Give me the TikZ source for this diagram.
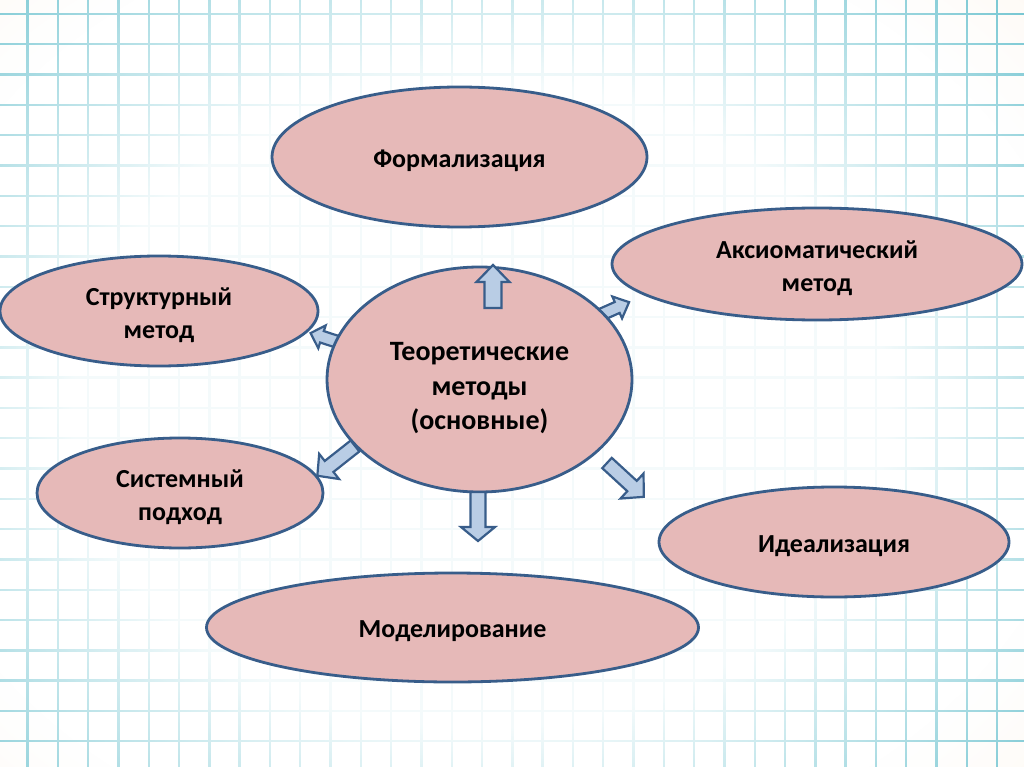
\documentclass[tikz,border=0pt]{standalone}
\usepackage{fontspec}
\setmainfont{Carlito}
\usetikzlibrary{fadings,shapes.geometric}

\definecolor{peach}{HTML}{FCE0BC}
\definecolor{gridc}{RGB}{50,170,188}
\definecolor{ellfill}{HTML}{E6B9B8}
\definecolor{ellline}{HTML}{385D8A}
\definecolor{arrfill}{HTML}{B9CDE5}

\pgfdeclareradialshading{glowshade}{\pgfpoint{0bp}{0bp}}{color(0bp)=(white); color(11bp)=(white); color(25bp)=(black); color(50bp)=(black)}
\pgfdeclarefading{glowfade}{\pgfuseshading{glowshade}}
\pgfdeclareradialshading{bgshade}{\pgfpoint{0bp}{0bp}}{color(0bp)=(white); color(12bp)=(white); color(25bp)=(black); color(50bp)=(black)}
\pgfdeclarefading{bgfade}{\pgfuseshading{bgshade}}

\tikzset{
  gridline/.style={draw=gridc, line width=2.4pt},
  oval/.style={ellipse, draw=ellline, fill=ellfill, line width=2.8pt, inner sep=0pt},
  ovaltext/.style={font=\bfseries\fontsize{26}{33}\selectfont, align=center, text=black, inner sep=0pt, yshift=-4pt},
  bigtext/.style={ovaltext, font=\bfseries\fontsize{28}{34.5}\selectfont, yshift=-5pt},
  barrowstyle/.style={draw=ellline, fill=arrfill, line width=2.2pt, line join=miter},
  pics/barrow/.style n args={4}{code={
    \path[barrowstyle] (0,{-#2/2}) -- ({#1-#4},{-#2/2}) -- ({#1-#4},{-#3/2}) -- (#1,0)
      -- ({#1-#4},{#3/2}) -- ({#1-#4},{#2/2}) -- (0,{#2/2}) -- cycle;}}
}

\begin{document}
\begin{tikzpicture}[x=1pt,y=-1pt]
\useasboundingbox (0,0) rectangle (1024,767);
\begin{scope}
\clip (0,0) rectangle (1024,767);
% background
\fill[peach] (0,0) rectangle (1024,767);
\fill[white, path fading=bgfade] (490,390) ellipse (1250 and 1000);
% grid
\foreach \k in {0,...,32} \draw[gridline] ({27.5+30.3*\k},0) -- ({27.5+30.3*\k},767);
\foreach \k in {0,...,24} \draw[gridline] (0,{14+30.3*\k}) -- (1024,{14+30.3*\k});
% glow over the grid
\fill[white, opacity=0.95, path fading=glowfade] (480,405) ellipse (920 and 730);
\end{scope}

% arrows behind the centre ellipse
\pic[rotate=162] at (341,343) {barrow={32}{12}{24}{12}};
\pic[rotate=24] at (598,316) {barrow={34}{12}{24}{13}};

% ellipses
\node[oval, minimum width=375pt, minimum height=140pt] (form) at (459.5,157) {};
\node[oval, minimum width=410pt, minimum height=112pt] (axiom) at (817,264) {};
\node[oval, minimum width=318pt, minimum height=110pt] (struct) at (159,311) {};
\node[oval, minimum width=286pt, minimum height=110pt] (system) at (180,493) {};
\node[oval, minimum width=350pt, minimum height=110pt] (ideal) at (834,542) {};
\node[oval, minimum width=492pt, minimum height=109pt] (model) at (452.5,627.5) {};
\node[oval, minimum width=305pt, minimum height=225pt] (theory) at (479.5,379.5) {};

% texts
\node[ovaltext] (formT) at (form.center) {Формализация};
\node[ovaltext] (axiomT) at (axiom.center) {Аксиоматический\\метод};
\node[ovaltext] (structT) at (struct.center) {Структурный\\метод};
\node[ovaltext] (systemT) at (system.center) {Системный\\подход};
\node[ovaltext] (idealT) at (ideal.center) {Идеализация};
\node[ovaltext] (modelT) at (model.center) {Моделирование};
\node[bigtext] (theoryT) at (theory.center) {Теоретические\\методы\\(основные)};

% arrows in front
\pic[rotate=90] at (493,308) {barrow={43}{17}{33}{17}};
\pic[rotate=-90] at (478,492) {barrow={49}{15}{34}{14}};
\pic[rotate=218.3] at (355,446) {barrow={48}{14}{32}{15}};
\pic[rotate=-42.6] at (607,463) {barrow={50}{14}{34}{16}};
\end{tikzpicture}
\end{document}
